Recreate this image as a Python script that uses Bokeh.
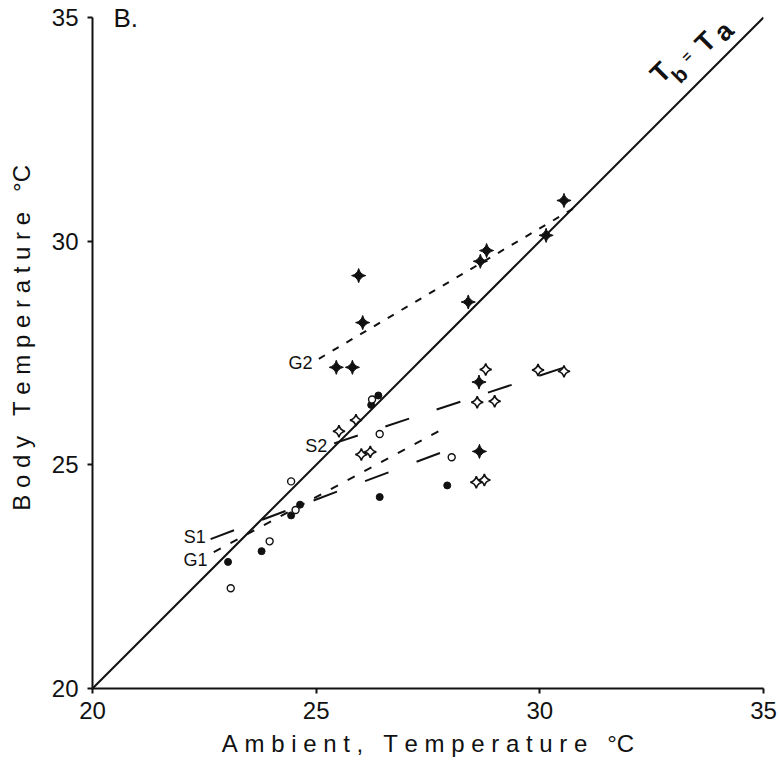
import math
from bokeh.plotting import figure
from bokeh.models import Range1d, FixedTicker
from bokeh.core.properties import value
from bokeh.embed import file_html
from bokeh.resources import INLINE

# ---- data ----
# G2: filled four-point stars
g2_x = [25.95, 26.04, 25.45, 25.81, 28.81, 28.67, 28.40, 30.54, 30.14, 28.64, 28.65]
g2_y = [29.23, 28.18, 27.18, 27.18, 29.79, 29.55, 28.64, 30.91, 30.13, 26.85, 25.30]
# S2: open four-point stars
s2_x = [28.79, 29.96, 30.54, 28.60, 28.99, 28.58, 28.76, 25.51, 25.89, 26.01, 26.21]
s2_y = [27.13, 27.12, 27.09, 26.40, 26.42, 24.61, 24.66, 25.75, 26.00, 25.23, 25.29]
# G1: filled circles
g1_x = [26.39, 26.23, 24.64, 24.44, 23.78, 26.42, 23.03, 27.93]
g1_y = [26.55, 26.34, 24.11, 23.87, 23.07, 24.28, 22.83, 24.54]
# S1: open circles
s1_x = [26.25, 26.42, 24.44, 24.54, 23.96, 23.09, 28.03]
s1_y = [26.46, 25.69, 24.63, 23.99, 23.29, 22.24, 25.17]

# regression lines (end points)
g2_fit_x = [25.06, 30.80]
g2_fit_y = [27.37, 30.76]
s2_fit_x = [25.40, 30.74]
s2_fit_y = [25.48, 27.24]
s1_fit_x = [22.64, 27.97]
s1_fit_y = [23.34, 25.34]
g1_fit_x = [22.71, 27.83]
g1_fit_y = [23.05, 25.80]
# Tb = Ta line
iso_x = [20, 35]
iso_y = [20, 35]

ticks = [20, 25, 30, 35]
NB = "\u00a0"


def spaced(words):
    return (NB * 3).join(NB.join(list(w)) for w in words)


x_label = spaced(["Ambient,", "Temperature"]) + NB * 3 + "\u00b0C"
y_label = NB * 2 + spaced(["Body", "Temperature"]) + NB * 3 + "\u00b0C"

FONT = "Liberation Sans"
INK = "#111111"

p = figure(width=779, height=761, output_backend="svg", toolbar_location=None,
           x_range=Range1d(20, 35), y_range=Range1d(20, 35.38),
           min_border_left=92, min_border_right=16, min_border_top=0,
           min_border_bottom=73)
p.outline_line_color = None
p.xgrid.visible = False
p.ygrid.visible = False
p.background_fill_color = "white"
p.border_fill_color = "white"

for ax, lab in ((p.xaxis[0], x_label), (p.yaxis[0], y_label)):
    ax.ticker = FixedTicker(ticks=ticks)
    ax.bounds = (20, 35)
    ax.axis_label = lab
    ax.axis_label_text_font = FONT
    ax.axis_label_text_font_style = "normal"
    ax.axis_label_text_font_size = "24px"
    ax.axis_label_text_color = INK
    ax.major_label_text_font = FONT
    ax.major_label_text_font_size = "24px"
    ax.major_label_text_color = INK
    ax.axis_line_width = 2
    ax.axis_line_color = INK
    ax.major_tick_line_width = 2
    ax.major_tick_line_color = INK
    ax.major_tick_in = 0
    ax.major_tick_out = 5
    ax.minor_tick_line_color = None
p.xaxis[0].major_label_standoff = 8
p.xaxis[0].axis_label_standoff = 8
p.yaxis[0].major_label_standoff = 9
p.yaxis[0].axis_label_standoff = 14

# lines
p.line(iso_x, iso_y, line_color=INK, line_width=2)
p.line(g2_fit_x, g2_fit_y, line_color=INK, line_width=2, line_dash="7 9")
p.line(g1_fit_x, g1_fit_y, line_color=INK, line_width=2, line_dash="8 11")
p.line(s2_fit_x, s2_fit_y, line_color=INK, line_width=2, line_dash="25 29")
p.line(s1_fit_x, s1_fit_y, line_color=INK, line_width=2, line_dash="25 30")

# points
p.scatter(g2_x, g2_y, marker="square_pin", angle=math.pi / 4, size=10,
          fill_color=INK, line_color=INK, line_width=1)
p.scatter(s2_x, s2_y, marker="square_pin", angle=math.pi / 4, size=8.5,
          fill_color="white", line_color=INK, line_width=1.6)
p.scatter(g1_x, g1_y, marker="circle", size=7,
          fill_color=INK, line_color=INK, line_width=1)
p.scatter(s1_x, s1_y, marker="circle", size=7,
          fill_color="white", line_color=INK, line_width=1.4)

# line labels
lab_style = dict(text_font=value(FONT), text_font_size="18px", text_color=INK,
                 text_align="right", text_baseline="middle")
p.text(x=[24.92], y=[27.27], text=["G2"], **lab_style)
p.text(x=[25.25], y=[25.43], text=["S2"], **lab_style)
p.text(x=[22.53], y=[23.38], text=["S1"], **lab_style)
p.text(x=[22.57], y=[22.88], text=["G1"], **lab_style)

# Tb = Ta label (rotated along the identity line)
rot = dict(angle=45, angle_units="deg", text_font=value(FONT), text_color=INK,
           text_align="center", text_baseline="middle", text_font_style="bold")
p.text(x=[32.70, 33.70, 34.11], y=[33.77, 34.45, 34.69], text=["T", "T", "a"],
       text_font_size="27px", **rot)
p.text(x=[33.12], y=[33.72], text=["b"], text_font_size="21px", **rot)
p.text(x=[33.28], y=[34.13], text=["="], text_font_size="14px", **rot)

# panel letter
p.text(x=[20.47], y=[35.33], text=["B."], text_font=value(FONT), text_font_size="26px",
       text_color=INK, text_baseline="top", text_align="left")

open("out.html", "w").write(file_html(p, INLINE))
